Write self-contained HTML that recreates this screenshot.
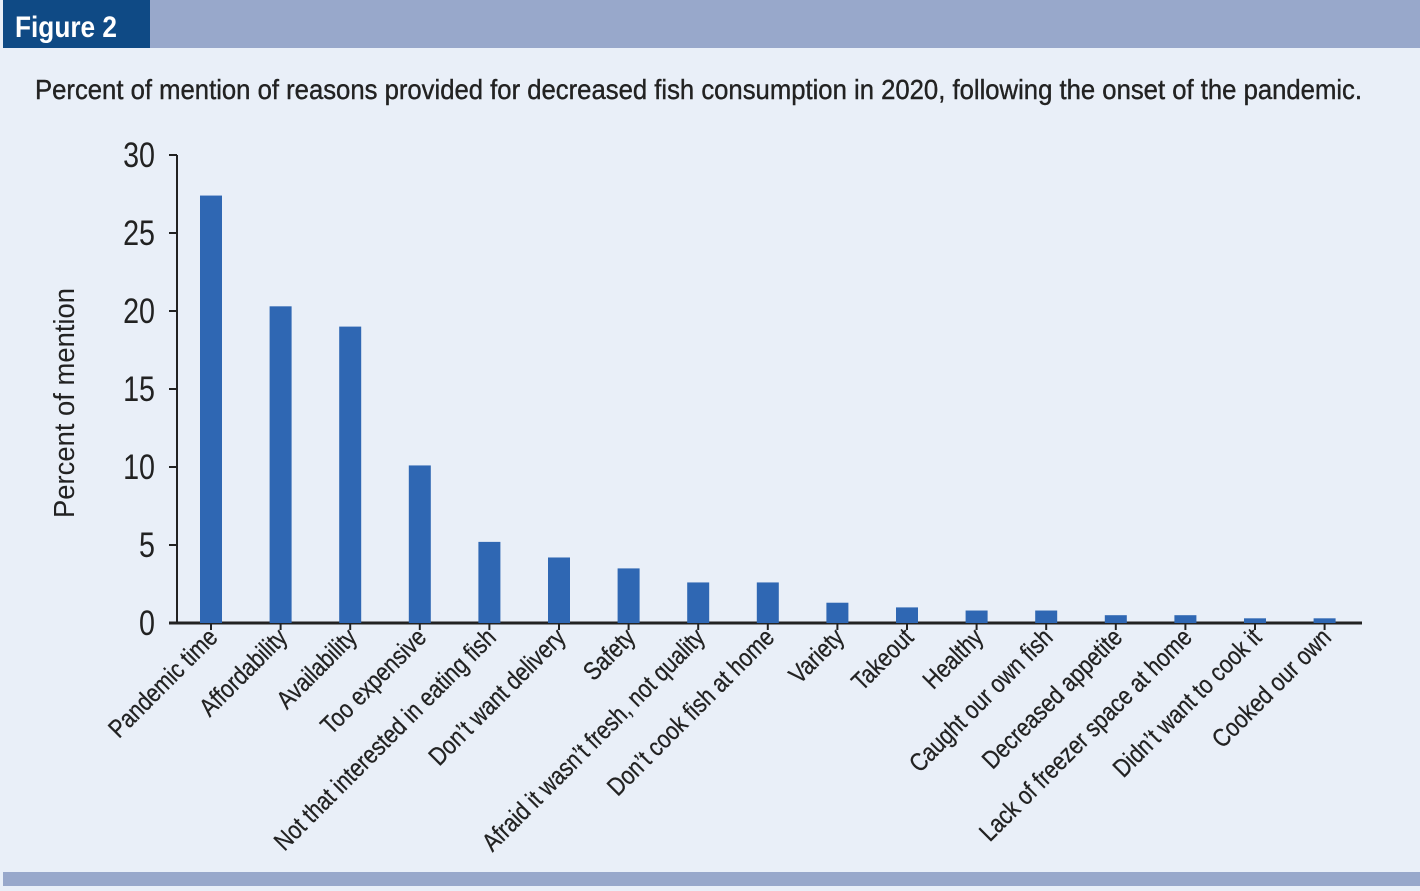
<!DOCTYPE html>
<html><head><meta charset="utf-8"><style>
body{margin:0;width:1420px;height:886px;background:#e9eff8;overflow:hidden;font-family:"Liberation Sans",sans-serif}
</style></head><body>
<svg width="1420" height="886">
<rect x="0" y="0" width="1420" height="886" fill="#e9eff8"/>
<rect x="150" y="0" width="1270" height="48" fill="#98a8cb"/>
<rect x="3" y="0" width="147" height="48" fill="#0f4a85"/>
<text x="15" y="37" fill="#fff" font-size="30" font-weight="bold" textLength="102" lengthAdjust="spacingAndGlyphs">Figure 2</text>
<text x="35" y="99" fill="#222" font-size="28" textLength="1327" lengthAdjust="spacingAndGlyphs" stroke="#222" stroke-width="0.4">Percent of mention of reasons provided for decreased fish consumption in 2020, following the onset of the pandemic.</text>
<rect x="3" y="872" width="1417" height="14" fill="#98a8cb"/>
<text transform="translate(74,403) rotate(-90)" text-anchor="middle" font-size="29" fill="#222" textLength="230" lengthAdjust="spacingAndGlyphs">Percent of mention</text>
<g id="chart"></g>
</svg>
<script>
const categories=["Pandemic time","Affordability","Availability","Too expensive","Not that interested in eating fish","Don\u2019t want delivery","Safety","Afraid it wasn\u2019t fresh, not quality","Don\u2019t cook fish at home","Variety","Takeout","Healthy","Caught our own fish","Decreased appetite","Lack of freezer space at home","Didn\u2019t want to cook it","Cooked our own"];
const values=[27.4,20.3,19.0,10.1,5.2,4.2,3.5,2.6,2.6,1.3,1.0,0.8,0.8,0.5,0.5,0.3,0.3];
const yTicks=[0,5,10,15,20,25,30];
const NS="http://www.w3.org/2000/svg";
const g=document.getElementById('chart');
const x0=177,y0=623,yTop=155,step=69.6,first=211,bw=22;
const y=v=>y0-(y0-yTop)*v/30;
const x=i=>first+i*step;
function mk(t,a){const e=document.createElementNS(NS,t);for(const k in a)e.setAttribute(k,a[k]);g.appendChild(e);return e;}
let ax=mk('line',{x1:x0,y1:yTop,x2:x0,y2:y0,stroke:'#222','stroke-width':2});


let xa=mk('line',{x1:x0-8,y1:y0,x2:1362,y2:y0,stroke:'#222','stroke-width':3});


yTicks.forEach(v=>{
 let t=mk('line',{x1:x0-8,y1:y(v),x2:x0,y2:y(v),stroke:'#222','stroke-width':2});
 
 
 let l=mk('text',{x:0,y:0,'text-anchor':'end','font-size':35,fill:'#222',transform:`translate(155,${y(v)+12}) scale(0.82,1)`});
 l.textContent=v;
 
 
});
values.forEach((v,i)=>{
 let b=mk('rect',{x:x(i)-bw/2,y:y(v),width:bw,height:y0-y(v),fill:'#2f67b3'});
 
 
 let t=mk('line',{x1:x(i),y1:y0,x2:x(i),y2:y0+7,stroke:'#222','stroke-width':2});
 
 
 let l=mk('text',{'text-anchor':'end','font-size':25.5,fill:'#222',stroke:'#222','stroke-width':0.3,transform:`translate(${x(i)+8},${y0+16}) rotate(-45) scale(0.84,1)`});
 l.textContent=categories[i];
 
 
});
</script>
</body></html>
